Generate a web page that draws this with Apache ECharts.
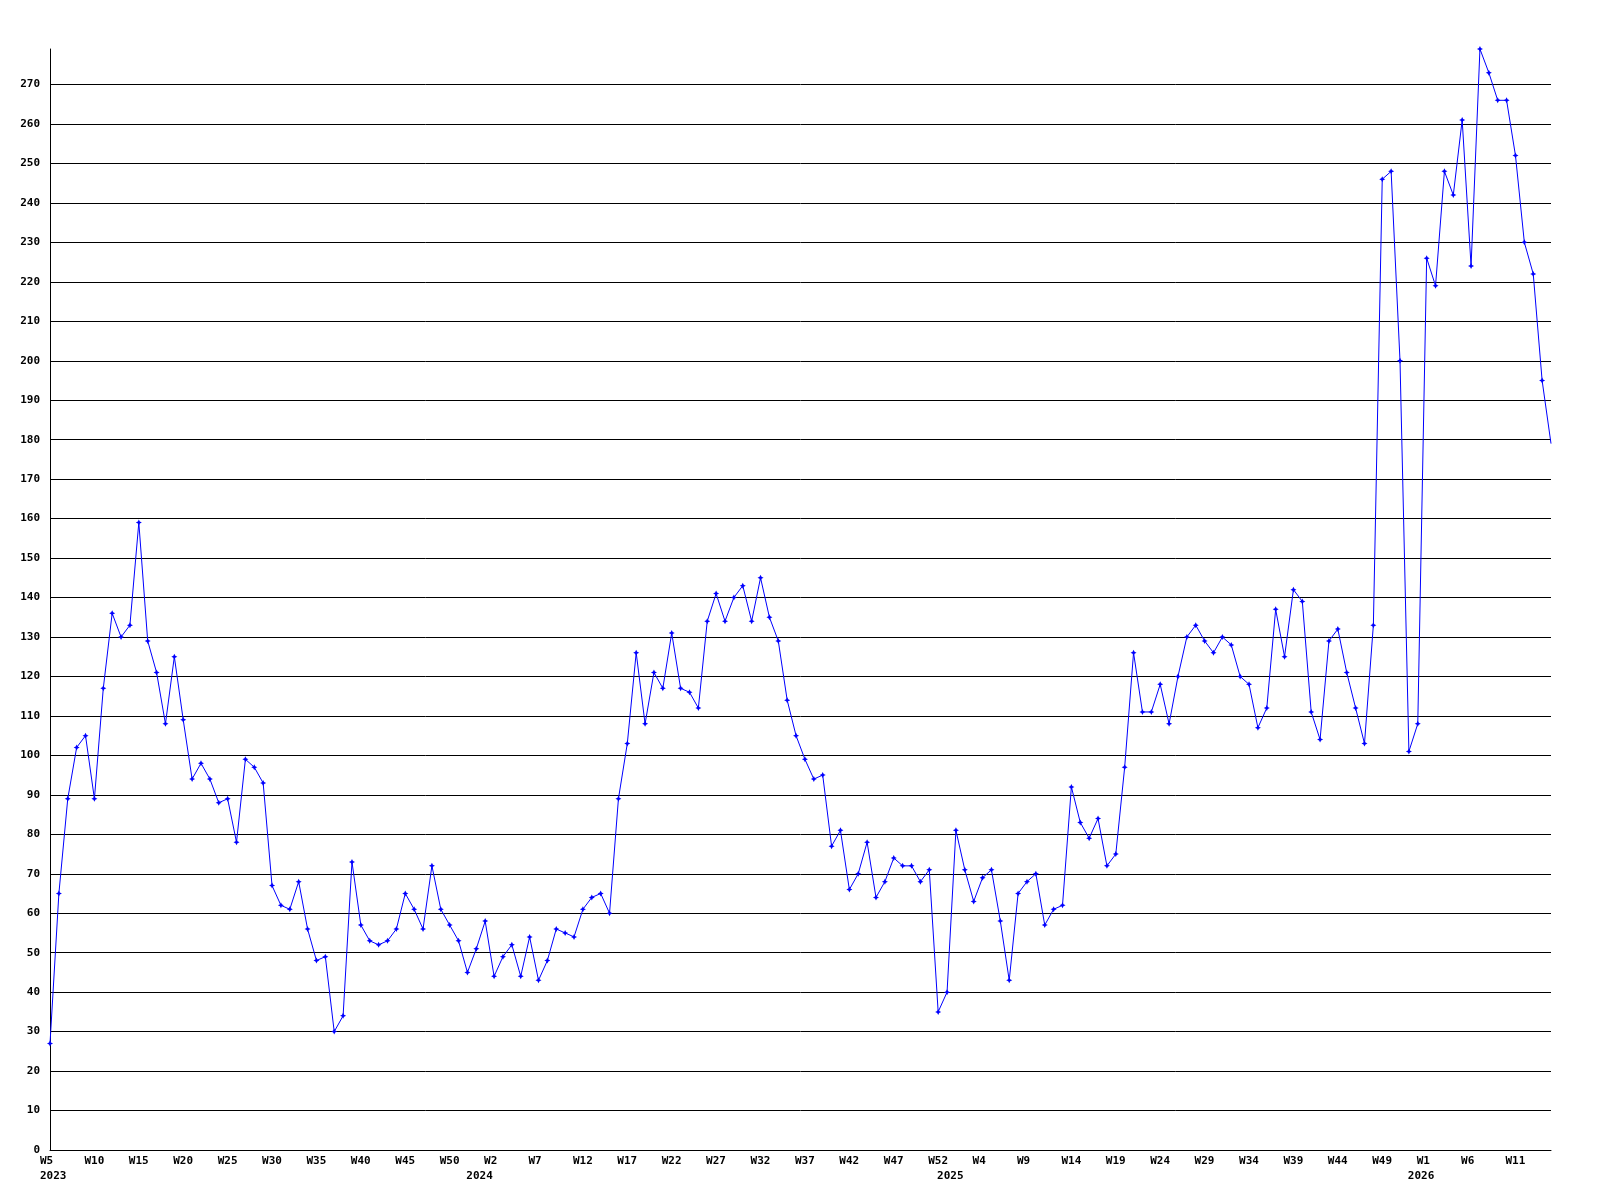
<!DOCTYPE html>
<html>
<head>
<meta charset="utf-8">
<script src="https://cdn.jsdelivr.net/npm/echarts@6/dist/echarts.min.js"></script>
<style>
html,body{margin:0;padding:0;background:#fff;}
#chart{width:1600px;height:1200px;}
</style>
</head>
<body>
<div id="chart"></div>
<script>
// Weekly values, starting 2023 W5 (week numbering W0..W52 per year)
const startYear = 2023;
const startWeek = 5;
const weeksPerYear = 53; // W0..W52
const values = [
  27, 65, 89, 102, 105, 89, 117, 136, 130, 133,
  159, 129, 121, 108, 125, 109, 94, 98, 94, 88,
  89, 78, 99, 97, 93, 67, 62, 61, 68, 56,
  48, 49, 30, 34, 73, 57, 53, 52, 53, 56,
  65, 61, 56, 72, 61, 57, 53, 45, 51, 58,
  44, 49, 52, 44, 54, 43, 48, 56, 55, 54,
  61, 64, 65, 60, 89, 103, 126, 108, 121, 117,
  131, 117, 116, 112, 134, 141, 134, 140, 143, 134,
  145, 135, 129, 114, 105, 99, 94, 95, 77, 81,
  66, 70, 78, 64, 68, 74, 72, 72, 68, 71,
  35, 40, 81, 71, 63, 69, 71, 58, 43, 65,
  68, 70, 57, 61, 62, 92, 83, 79, 84, 72,
  75, 97, 126, 111, 111, 118, 108, 120, 130, 133,
  129, 126, 130, 128, 120, 118, 107, 112, 137, 125,
  142, 139, 111, 104, 129, 132, 121, 112, 103, 133,
  246, 248, 200, 101, 108, 226, 219, 248, 242, 261,
  224, 279, 273, 266, 266, 252, 230, 222, 195, 179
];

// categories: week labels and year labels
const weekLabels = [];
const yearLabels = [];
(function(){
  let y = startYear, w = startWeek;
  for (let i = 0; i < values.length; i++) {
    weekLabels.push('W' + w);
    yearLabels.push((i === 0 || w === 0) ? String(y) : '');
    w++;
    if (w >= weeksPerYear) { w = 0; y++; }
  }
})();

// last point's marker is cut off at the plot edge in the reference
const seriesData = values.map(function (v, i) {
  return i === values.length - 1 ? {value: v, symbol: 'none'} : v;
});

const FONT = 'DejaVu Sans Mono';
const chart = echarts.init(document.getElementById('chart'), null, {renderer: 'canvas'});
chart.setOption({
  backgroundColor: '#ffffff',
  animation: false,
  grid: [
    {left: 50, right: 49, top: 49, bottom: 50},
    {left: 40, right: 59, top: 49, bottom: 50}
  ],
  xAxis: [
    {
      type: 'category', gridIndex: 0, position: 'bottom', data: weekLabels, boundaryGap: false,
      axisLine: {show: true, lineStyle: {color: '#000', width: 1}},
      axisTick: {show: false},
      axisLabel: {show: false},
      splitLine: {show: false}
    },
    {
      type: 'category', gridIndex: 1, position: 'bottom', data: weekLabels, boundaryGap: false,
      axisLine: {show: false}, axisTick: {show: false}, splitLine: {show: false},
      axisLabel: {
        show: true, interval: 4, align: 'left', margin: 6,
        fontFamily: FONT, fontSize: 11, fontWeight: 'bold', color: '#000'
      }
    },
    {
      type: 'category', gridIndex: 1, position: 'bottom', offset: 0, data: yearLabels, boundaryGap: false,
      axisLine: {show: false}, axisTick: {show: false}, splitLine: {show: false},
      axisLabel: {
        show: true, align: 'left', margin: 21,
        interval: function (idx, val) { return val !== ''; },
        fontFamily: FONT, fontSize: 11, fontWeight: 'bold', color: '#000'
      }
    }
  ],
  yAxis: [
    {
      type: 'value', gridIndex: 0, min: 0, max: 279, interval: 10,
      axisLine: {show: true, lineStyle: {color: '#000', width: 1}},
      axisTick: {show: false},
      axisLabel: {
        margin: 10, fontFamily: FONT, fontSize: 11, fontWeight: 'bold', color: '#000',
        formatter: function (v) { return v % 10 === 0 ? String(v) : ''; }
      },
      splitLine: {show: true, showMaxLine: false, lineStyle: {color: '#000', width: 1}}
    },
    {
      type: 'value', gridIndex: 1, min: 0, max: 279, show: false
    }
  ],
  series: [{
    type: 'line',
    xAxisIndex: 0, yAxisIndex: 0,
    data: seriesData,
    lineStyle: {color: '#0000ff', width: 1},
    itemStyle: {color: '#0000ff'},
    symbol: 'path://M0,-3L1,-1L3,0L1,1L0,3L-1,1L-3,0L-1,-1Z',
    symbolSize: 6,
    showAllSymbol: true,
    clip: false
  }]
});
</script>
</body>
</html>
